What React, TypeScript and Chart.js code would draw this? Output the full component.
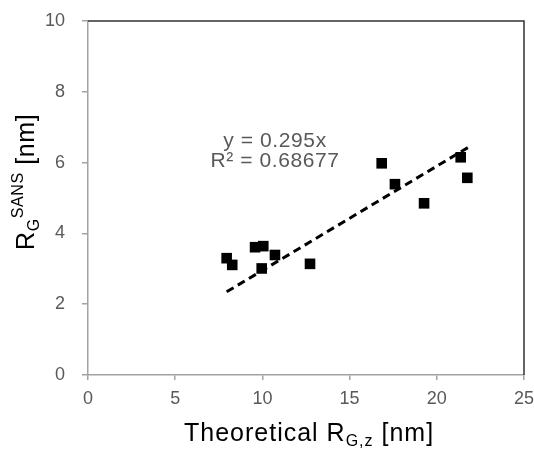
import React, { useEffect, useRef } from "react";
import { Chart, registerables } from "chart.js";

Chart.register(...registerables);

const theoreticalRg = [7.95, 8.27, 9.58, 10.05, 10.72, 9.96, 12.73, 16.84, 17.6, 19.27, 21.37, 21.75];
const sansRg = [3.3, 3.11, 3.61, 3.64, 3.39, 3.01, 3.14, 5.98, 5.39, 4.85, 6.15, 5.57];
const trendX = [7.95, 21.8];
const trendY = [2.35, 6.43];
const equationLines = ["y = 0.295x", "R² = 0.68677"];
const xTicks = [0, 5, 10, 15, 20, 25];
const yTicks = [0, 2, 4, 6, 8, 10];

const FONT = "'Liberation Sans', Arial, Helvetica, sans-serif";
const GRAY_TEXT = "#595959";
const AXIS_GRAY = "#a3a3a3";

const overlayPlugin = {
  id: "overlay",
  afterDraw(chart: any) {
    const ctx = chart.ctx as any;
    const a = chart.chartArea;
    ctx.save();
    // top & right frame
    ctx.strokeStyle = "#333333";
    ctx.lineWidth = 1.5;
    ctx.beginPath();
    ctx.moveTo(a.left, a.top);
    ctx.lineTo(a.right, a.top);
    ctx.lineTo(a.right, a.bottom);
    ctx.stroke();

    // equation text
    ctx.fillStyle = GRAY_TEXT;
    ctx.font = `21px ${FONT}`;
    ctx.letterSpacing = "0.6px";
    ctx.textAlign = "center";
    ctx.textBaseline = "alphabetic";
    const cx = a.left + 187;
    ctx.fillText(equationLines[0], cx, a.top + 126);
    ctx.fillText(equationLines[1], cx, a.top + 146);

    // x title
    ctx.fillStyle = "#000000";
    ctx.textAlign = "left";
    ctx.letterSpacing = "1px";
    const segsX = [
      { t: "Theoretical R", s: 25, dy: 0 },
      { t: "G,z", s: 16, dy: 5 },
      { t: " [nm]", s: 25, dy: 0 },
    ];
    let x = 184;
    const by = 441;
    for (const sg of segsX) {
      ctx.font = `${sg.s}px ${FONT}`;
      ctx.fillText(sg.t, x, by + sg.dy);
      x += ctx.measureText(sg.t).width;
    }

    // y title (rotated)
    ctx.letterSpacing = "0.6px";
    ctx.translate(34, 250);
    ctx.rotate(-Math.PI / 2);
    const segsY = [
      { t: "R", s: 25, dy: 0 },
      { t: "G", s: 16, dy: 5 },
      { t: "SANS", s: 16, dy: -11 },
      { t: " [nm]", s: 25, dy: 0 },
    ];
    let yx = 0;
    for (const sg of segsY) {
      ctx.font = `${sg.s}px ${FONT}`;
      ctx.fillText(sg.t, yx, sg.dy);
      yx += ctx.measureText(sg.t).width;
    }
    ctx.restore();
  },
};

const zeroPad = (s: any) => {
  s.paddingTop = 0;
  s.paddingBottom = 0;
  s.paddingLeft = 0;
  s.paddingRight = 0;
};

export default function App() {
  const ref = useRef<HTMLCanvasElement | null>(null);
  useEffect(() => {
    if (!ref.current) return;
    const chart = new Chart(ref.current, {
      type: "scatter",
      data: {
        datasets: [
          {
            label: "data",
            data: theoreticalRg.map((v, i) => ({ x: v, y: sansRg[i] })),
            pointStyle: "rect",
            pointRadius: 7.5,
            pointBorderWidth: 0,
            backgroundColor: "#000000",
            borderColor: "#000000",
          },
          {
            type: "line",
            label: "trend",
            data: trendX.map((v, i) => ({ x: v, y: trendY[i] })),
            borderColor: "#000000",
            borderWidth: 3,
            borderDash: [8, 5],
            pointRadius: 0,
            fill: false,
          } as any,
        ],
      },
      options: {
        animation: false,
        responsive: true,
        maintainAspectRatio: false,
        layout: { padding: { left: 0, right: 10, top: 21, bottom: 0 } },
        plugins: { legend: { display: false }, tooltip: { enabled: false } },
        scales: {
          x: {
            type: "linear",
            min: 0,
            max: 25,
            afterBuildTicks: (s: any) => {
              s.ticks = xTicks.map((v) => ({ value: v }));
            },
            afterFit: (s: any) => {
              s.height = 74;
              zeroPad(s);
            },
            border: { display: true, color: AXIS_GRAY, width: 1.5 },
            grid: { drawOnChartArea: false, drawTicks: true, tickLength: 5, color: AXIS_GRAY, lineWidth: 1.5 },
            ticks: { color: GRAY_TEXT, font: { family: FONT, size: 18 }, padding: 8, maxRotation: 0 },
          },
          y: {
            type: "linear",
            min: 0,
            max: 10,
            afterBuildTicks: (s: any) => {
              s.ticks = yTicks.map((v) => ({ value: v }));
            },
            afterFit: (s: any) => {
              s.width = 88;
              zeroPad(s);
            },
            border: { display: true, color: AXIS_GRAY, width: 1.5 },
            grid: { drawOnChartArea: false, drawTicks: true, tickLength: 6, color: AXIS_GRAY, lineWidth: 1.5 },
            ticks: { color: GRAY_TEXT, font: { family: FONT, size: 18 }, padding: 17 },
          },
        },
      },
      plugins: [overlayPlugin],
    });
    return () => chart.destroy();
  }, []);
  return (
    <div style={{ position: "fixed", left: 0, top: 0, width: 534, height: 449, background: "#fff" }}>
      <canvas ref={ref} />
    </div>
  );
}
